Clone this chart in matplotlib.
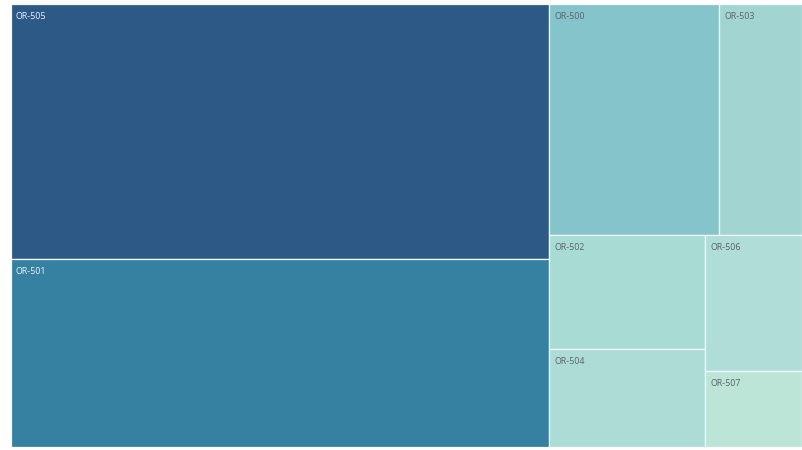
import matplotlib
matplotlib.use("Agg")
import matplotlib.pyplot as plt
from matplotlib.colors import LinearSegmentedColormap, Normalize
from matplotlib.patches import Rectangle

labels = ["OR-505", "OR-501", "OR-500", "OR-503", "OR-502", "OR-504", "OR-506", "OR-507"]
values = [39.15, 28.86, 11.21, 5.47, 5.08, 4.36, 3.76, 2.10]

# layout tree: (direction, children); 'h' = side by side, 'v' = stacked
tree = ("h", [("v", [0, 1]),
              ("v", [("h", [2, 3]),
                     ("h", [("v", [4, 5]), ("v", [6, 7])])])])

W, H = 791.0, 443.0

def total(node):
    if isinstance(node, int):
        return values[node]
    return sum(total(c) for c in node[1])

rects = {}
def layout(node, x, y, w, h):
    if isinstance(node, int):
        rects[node] = (x, y, w, h)
        return
    d, kids = node
    s = total(node)
    pos = 0.0
    for k in kids:
        f = total(k) / s
        if d == "h":
            layout(k, x + pos * w, y, f * w, h)
        else:
            layout(k, x, y + pos * h, w, f * h)
        pos += f

layout(tree, 0, 0, W, H)

cmap = LinearSegmentedColormap.from_list("bt", [
    (0.0, "#bce5d8"), (0.05, "#aedcd7"), (0.08, "#a9dbd5"), (0.091, "#a1d5d2"),
    (0.246, "#84c4ca"), (0.72, "#3680a2"), (1.0, "#2c5985")])
norm = Normalize(min(values), max(values))

fig = plt.figure(figsize=(8.02, 4.5), dpi=100)
ax = fig.add_axes([11 / 802, 3 / 450, 791 / 802, 443 / 450])
ax.set_xlim(0, W)
ax.set_ylim(H, 0)
ax.axis("off")

for i, lab in enumerate(labels):
    x, y, w, h = rects[i]
    c = cmap(norm(values[i]))
    ax.add_patch(Rectangle((x, y), w, h, facecolor=c, edgecolor="#f4fafa", linewidth=0.9))
    dark = norm(values[i]) > 0.5
    ax.text(x + 5, y + 8, lab, ha="left", va="top", fontsize=6.4,
            family="Open Sans", weight="medium",
            color="#eef2f6" if dark else "#5a6468")

fig.savefig("out.png", dpi=100)
